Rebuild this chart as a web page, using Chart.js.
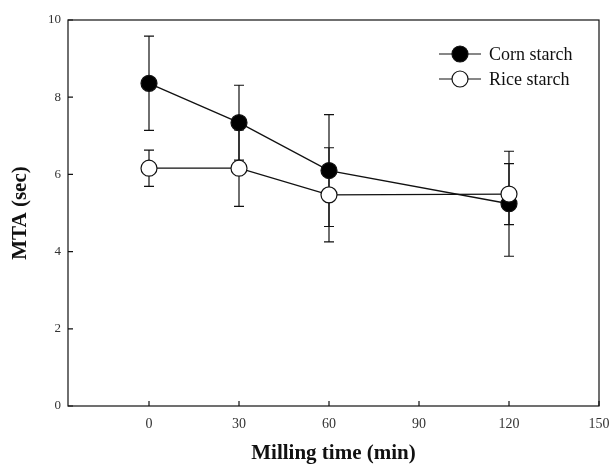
<!DOCTYPE html>
<html>
<head>
<meta charset="utf-8">
<script src="https://cdn.jsdelivr.net/npm/chart.js@4/dist/chart.umd.min.js"></script>
<style>
  html, body { margin: 0; padding: 0; background: #fff; overflow: hidden; }
  #wrap { width: 613px; height: 466px; }
</style>
</head>
<body>
<div id="wrap"><canvas id="c"></canvas></div>
<script>
const times = [0, 30, 60, 120]
const cornMTA = [8.36, 7.34, 6.10, 5.24]
const cornErr = [1.22, 0.97, 1.45, 1.36]
const riceMTA = [6.16, 6.16, 5.47, 5.49]
const riceErr = [0.47, 0.99, 1.22, 0.79]
const xTicks = [0, 30, 60, 90, 120, 150]
const yTicks = [0, 2, 4, 6, 8, 10]

const serif = '"Liberation Serif", "DejaVu Serif", serif'

function pts(ys, errs) {
  return times.map((t, i) => ({ x: t, y: ys[i], err: errs[i] }))
}

// error bars, frame, inward ticks and the legend
const extras = {
  id: 'extras',
  beforeDatasetsDraw(chart) {
    const ctx = chart.ctx
    const xs = chart.scales.x, ys = chart.scales.y
    ctx.save()
    ctx.strokeStyle = '#111'
    ctx.lineWidth = 1.2
    chart.data.datasets.forEach(ds => {
      ds.data.forEach(p => {
        const px = xs.getPixelForValue(p.x)
        const top = ys.getPixelForValue(p.y + p.err)
        const bot = ys.getPixelForValue(p.y - p.err)
        ctx.beginPath()
        ctx.moveTo(px, top); ctx.lineTo(px, bot)
        ctx.moveTo(px - 5, top); ctx.lineTo(px + 5, top)
        ctx.moveTo(px - 5, bot); ctx.lineTo(px + 5, bot)
        ctx.stroke()
      })
    })
    ctx.restore()
  },
  afterDraw(chart) {
    const ctx = chart.ctx
    const a = chart.chartArea
    const xs = chart.scales.x, ys = chart.scales.y
    ctx.save()
    ctx.strokeStyle = '#111'
    ctx.lineWidth = 1.2
    ctx.strokeRect(a.left, a.top, a.right - a.left, a.bottom - a.top)
    ctx.beginPath()
    xTicks.forEach(v => {
      const px = xs.getPixelForValue(v)
      ctx.moveTo(px, a.bottom); ctx.lineTo(px, a.bottom - 5)
    })
    yTicks.forEach(v => {
      const py = ys.getPixelForValue(v)
      ctx.moveTo(a.left, py); ctx.lineTo(a.left + 5, py)
    })
    ctx.stroke()

    // legend
    const lx = 460, ly = [54, 79]
    ctx.font = '18px ' + serif
    ctx.textBaseline = 'middle'
    chart.data.datasets.forEach((ds, i) => {
      const y = ly[i]
      ctx.beginPath()
      ctx.moveTo(lx - 21, y); ctx.lineTo(lx + 21, y)
      ctx.lineWidth = 1.2
      ctx.stroke()
      ctx.beginPath()
      ctx.arc(lx, y, 8, 0, Math.PI * 2)
      ctx.fillStyle = ds.pointBackgroundColor
      ctx.fill()
      ctx.stroke()
      ctx.fillStyle = '#111'
      ctx.fillText(ds.label, lx + 29, y + 1)
    })
    ctx.restore()
  }
}

new Chart(document.getElementById('c').getContext('2d'), {
  type: 'line',
  data: {
    datasets: [
      {
        label: 'Corn starch',
        data: pts(cornMTA, cornErr),
        borderColor: '#111',
        borderWidth: 1.3,
        pointBackgroundColor: '#000',
        pointBorderColor: '#111',
        pointBorderWidth: 1.2,
        pointRadius: 8,
        tension: 0,
        order: 1,
      },
      {
        label: 'Rice starch',
        data: pts(riceMTA, riceErr),
        borderColor: '#111',
        borderWidth: 1.3,
        pointBackgroundColor: '#fff',
        pointBorderColor: '#111',
        pointBorderWidth: 1.2,
        pointRadius: 8,
        tension: 0,
        order: 0,
      },
    ],
  },
  options: {
    animation: false,
    responsive: true,
    maintainAspectRatio: false,
    layout: { padding: { left: 0, right: 14, top: 20, bottom: 0 } },
    plugins: { legend: { display: false }, tooltip: { enabled: false } },
    scales: {
      x: {
        type: 'linear',
        min: -27,
        max: 150,
        afterBuildTicks: s => { s.ticks = xTicks.map(v => ({ value: v })) },
        afterFit: s => { s.height = 60; s.paddingRight = 0; s.paddingLeft = 0 },
        grid: { display: false, drawTicks: false },
        border: { display: false },
        ticks: { color: '#333', padding: 10, font: { family: serif, size: 14 } },
        title: {
          display: true,
          text: 'Milling time (min)',
          color: '#111',
          padding: { top: 0, bottom: 0 },
          font: { family: serif, size: 21, weight: 'bold' },
        },
      },
      y: {
        min: 0,
        max: 10,
        afterBuildTicks: s => { s.ticks = yTicks.map(v => ({ value: v })) },
        afterFit: s => { s.width = 68; s.paddingTop = 0; s.paddingBottom = 0 },
        grid: { display: false, drawTicks: false },
        border: { display: false },
        ticks: { color: '#333', padding: 7, font: { family: serif, size: 13 } },
        title: {
          display: true,
          text: 'MTA (sec)',
          color: '#111',
          padding: { top: 8, bottom: 0 },
          font: { family: serif, size: 21, weight: 'bold' },
        },
      },
    },
  },
  plugins: [extras],
})
</script>
</body>
</html>
